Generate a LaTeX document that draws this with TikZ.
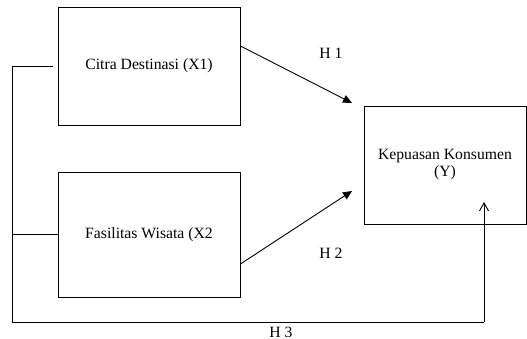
\documentclass[tikz,border=0pt]{standalone}
\usepackage{fontspec}
\setmainfont{Liberation Serif}
\usetikzlibrary{arrows.meta}
\begin{document}
\begin{tikzpicture}[x=1pt,y=-1pt,
  varbox/.style={draw,line width=0.9pt,inner sep=0pt,align=center,font=\fontsize{15.7}{17}\selectfont},
  lbl/.style={font=\fontsize{15.7}{17}\selectfont,inner sep=0pt},
  link/.style={line width=0.8pt},
  hyp/.style={line width=0.9pt,-{Triangle[length=9pt,width=8pt]}},
  opn/.style={line width=0.9pt,-{Straight Barb[length=8pt,width=9pt]}}]
\useasboundingbox (0,0) rectangle (527,339);
\node[varbox,minimum width=182pt,minimum height=118pt] (x1) at (149,66) {Citra Destinasi (X1)};
\node[varbox,minimum width=182pt,minimum height=125pt] (x2) at (149,234.5) {Fasilitas Wisata (X2};
\node[varbox,minimum width=162pt,minimum height=118pt] (y) at (445,165) {Kepuasan Konsumen\\(Y)};
\coordinate (t1) at (352,103);
\coordinate (t2) at (352,191);
\coordinate (c1) at (12,66);
\coordinate (c2) at (12,234.5);
\coordinate (c3) at (12,322);
\coordinate (c4) at (484,322);
\coordinate (t3) at (484,202);
\draw[hyp] ([yshift=20pt]x1.east) -- (t1);
\draw[hyp] ([yshift=-29.5pt]x2.east) -- (t2);
\draw[link] ([xshift=-5pt]x1.west) -- (c1) -- (c3) -- (c4);
\draw[opn] (c4) -- (t3);
\draw[link] (c2) -- (x2.west);
\node[lbl] (h1) at (331,53) {H 1};
\node[lbl] (h2) at (331,253) {H 2};
\node[lbl] (h3) at (281,332) {H 3};
\end{tikzpicture}
\end{document}
